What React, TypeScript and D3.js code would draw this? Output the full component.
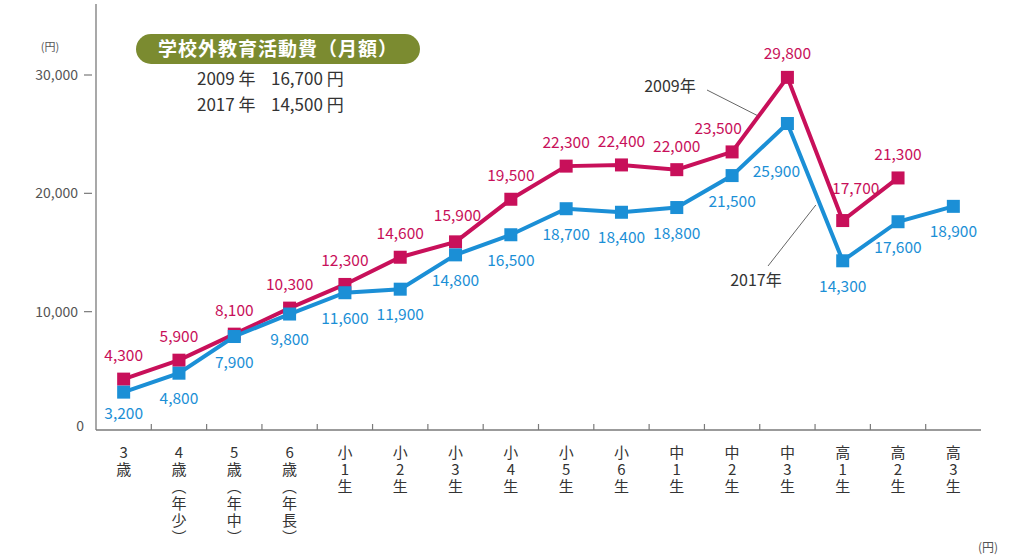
import React from "react";
import * as d3 from "d3";

const categories = [
  "3歳", "4歳（年少）", "5歳（年中）", "6歳（年長）",
  "小1生", "小2生", "小3生", "小4生", "小5生", "小6生",
  "中1生", "中2生", "中3生", "高1生", "高2生", "高3生",
];
const values2009: (number | null)[] = [
  4300, 5900, 8100, 10300, 12300, 14600, 15900, 19500, 22300, 22400,
  22000, 23500, 29800, 17700, 21300, null,
];
const values2017: (number | null)[] = [
  3200, 4800, 7900, 9800, 11600, 11900, 14800, 16500, 18700, 18400,
  18800, 21500, 25900, 14300, 17600, 18900,
];
const yTicks = [0, 10000, 20000, 30000];
const titleText = "学校外教育活動費（月額）";
const summaryYears = ["2009 年", "2017 年"];
const summaryAmounts = ["16,700 円", "14,500 円"];
const seriesNames = ["2009年", "2017年"];

const W = 1024;
const H = 559;
const FONT = "'Noto Sans CJK JP', 'Noto Sans', sans-serif";
const RED = "#c8105a";
const BLUE = "#1b8fd6";
const TEXT = "#333333";
const AXIS = "#7a7a7a";

// label nudges (layout only)
const nudge2009: Record<number, [number, number]> = { 11: [-14, 0], 13: [13, -9], 6: [2, -3] };
const nudge2017: Record<number, [number, number]> = { 12: [-11, 22], 0: [0, -4] };

export default function App() {
  const x = d3.scaleBand<string>().domain(categories).range([96, 981]).paddingInner(0).paddingOuter(0);
  const y = d3.scaleLinear().domain([0, 36000]).range([430, 4]);
  const cx = (i: number) => (x(categories[i]) as number) + x.bandwidth() / 2;

  const line = d3
    .line<number | null>()
    .defined((d) => d != null)
    .x((_, i) => cx(i))
    .y((d) => y(d as number));

  const fmt = d3.format(",");

  const along = (vals: (number | null)[], i: number, t: number) => {
    const x0 = cx(i), x1 = cx(i + 1);
    const y0 = y(vals[i] as number), y1 = y(vals[i + 1] as number);
    return [x0 + (x1 - x0) * t, y0 + (y1 - y0) * t];
  };
  const lead09 = along(values2009, 11, 0.45);
  const lead17 = along(values2017, 12, 0.55);

  const toVertical = (s: string) =>
    Array.from(s).map((c) => (c === "（" ? "︵" : c === "）" ? "︶" : c)).join("");

  const series = [
    { vals: values2009, color: RED, nudge: nudge2009, dy: -18 },
    { vals: values2017, color: BLUE, nudge: nudge2017, dy: 31 },
  ];

  return (
    <svg
      width={W}
      height={H}
      style={{ position: "absolute", left: 0, top: 0, background: "#fff", fontFamily: FONT }}
    >
      {/* axes */}
      <line x1={96} x2={96} y1={y(36000)} y2={y(0)} stroke={AXIS} strokeWidth={1.3} />
      <line x1={96} x2={981} y1={y(0)} y2={y(0)} stroke={AXIS} strokeWidth={1.3} />
      {categories.slice(1).map((c) => (
        <line key={c} x1={x(c) as number} x2={x(c) as number} y1={y(0)} y2={y(0) - 6} stroke={AXIS} strokeWidth={1.2} />
      ))}
      {yTicks.map((t) =>
        t === 0 ? (
          <text key={t} x={84} y={y(0) + 1} textAnchor="end" fontSize={14} fill="#555">0</text>
        ) : (
          <g key={t}>
            <line x1={84} x2={92} y1={y(t)} y2={y(t)} stroke={AXIS} strokeWidth={1.2} />
            <text x={78} y={y(t) + 5} textAnchor="end" fontSize={14} fill="#555">{fmt(t)}</text>
          </g>
        )
      )}
      <text x={50} y={51} textAnchor="middle" fontSize={11} fill="#555">(円)</text>
      <text x={988} y={552} textAnchor="middle" fontSize={12} fill="#555">(円)</text>

      {/* x labels (vertical) */}
      {categories.map((c, i) => (
        <text
          key={c}
          x={cx(i)}
          y={445}
          fontSize={15}
          fill={TEXT}
          style={{ writingMode: "vertical-rl", textOrientation: "upright", letterSpacing: "2px" } as any}
        >
          {toVertical(c)}
        </text>
      ))}

      {/* title */}
      <rect x={136} y={34} width={284} height={30} rx={15} fill="#7b8b30" />
      <text x={278} y={56} textAnchor="middle" fontSize={19} fontWeight="bold" fill="#fff" letterSpacing={1}>{titleText}</text>
      {summaryYears.map((s, k) => (
        <g key={k}>
          <text x={197} y={85 + k * 26} fontSize={17} fill={TEXT}>{s}</text>
          <text x={271} y={85 + k * 26} fontSize={17} fill={TEXT}>{summaryAmounts[k]}</text>
        </g>
      ))}

      {/* series */}
      {series.map((s, si) => (
        <g key={si}>
          <path d={line(s.vals) || ""} fill="none" stroke={s.color} strokeWidth={4} strokeLinejoin="miter" />
          {s.vals.map((v, i) =>
            v == null ? null : (
              <rect key={i} x={cx(i) - 6.5} y={y(v) - 6.5} width={13} height={13} fill={s.color} />
            )
          )}
        </g>
      ))}
      {series.map((s, si) => (
        <g key={"l" + si}>
          {s.vals.map((v, i) => {
            if (v == null) return null;
            const [ndx, ndy] = s.nudge[i] || [0, 0];
            return (
              <text key={i} x={cx(i) + ndx} y={y(v) + s.dy + ndy} textAnchor="middle" fontSize={15.5} fill={s.color}>
                {fmt(v)}
              </text>
            );
          })}
        </g>
      ))}

      {/* series annotations */}
      <line x1={707} y1={90} x2={lead09[0]} y2={lead09[1] - 3} stroke="#666" strokeWidth={1} />
      <text x={670} y={92} textAnchor="middle" fontSize={16} fill={TEXT}>{seriesNames[0]}</text>
      <line x1={768} y1={266} x2={lead17[0] - 2} y2={lead17[1] + 6} stroke="#666" strokeWidth={1} />
      <text x={756} y={286} textAnchor="middle" fontSize={16} fill={TEXT}>{seriesNames[1]}</text>
    </svg>
  );
}
